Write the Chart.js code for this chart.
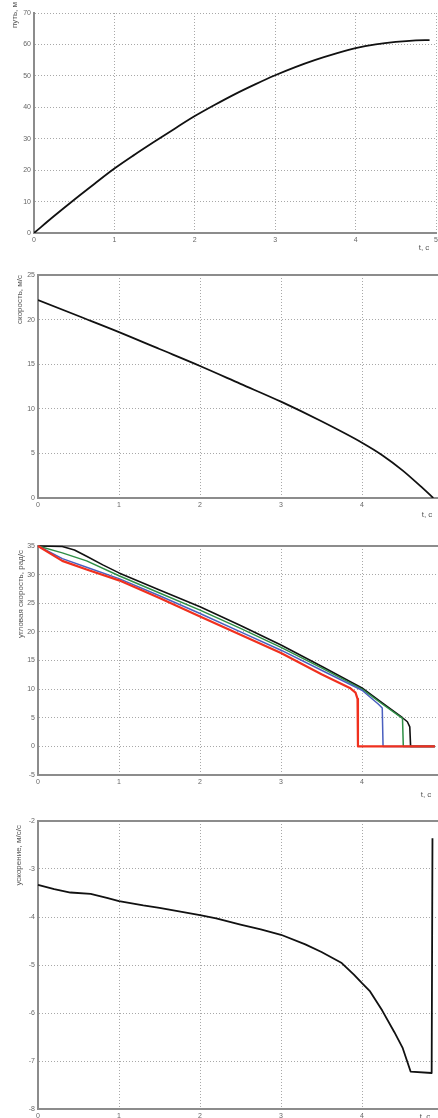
<!DOCTYPE html>
<html><head><meta charset="utf-8">
<script src="https://cdn.jsdelivr.net/npm/chart.js@4.4.1/dist/chart.umd.min.js"></script>
<style>
html,body{margin:0;padding:0;background:#fff;overflow:hidden;width:438px;height:1118px;position:relative;}
canvas{position:absolute;left:0;}
</style></head><body>
<canvas id="c1" width="450" height="262" style="top:0px"></canvas>
<canvas id="c2" width="450" height="268" style="top:262px"></canvas>
<canvas id="c3" width="450" height="270" style="top:530px"></canvas>
<canvas id="c4" width="450" height="318" style="top:800px"></canvas>
<script>
// ---- tick labels ----
const xTicks = [0, 1, 2, 3, 4, 5];
const pathTicks = [0, 10, 20, 30, 40, 50, 60, 70];
const speedTicks = [0, 5, 10, 15, 20, 25];
const omegaTicks = [-5, 0, 5, 10, 15, 20, 25, 30, 35];
const accTicks = [-8, -7, -6, -5, -4, -3, -2];

// ---- titles ----
const yTitlePath = 'путь, м';
const yTitleSpeed = 'скорость, м/с';
const yTitleOmega = 'угловая скорость, рад/с';
const yTitleAcc = 'ускорение, м/с/с';
const xTitle = 't, c';

// ---- path, m ----
const pathT = [0, 0.25, 0.5, 0.75, 1, 1.25, 1.5, 1.75, 2, 2.25, 2.5, 2.75, 3, 3.25, 3.5, 3.75, 4, 4.25, 4.5, 4.75, 4.92];
const pathS = [0, 5.4, 10.6, 15.6, 20.5, 24.9, 29.1, 33.2, 37.2, 40.8, 44.2, 47.3, 50.2, 52.8, 55.1, 57.1, 58.8, 60.0, 60.8, 61.3, 61.4];

// ---- speed, m/s ----
const speedT = [0, 0.5, 1, 1.5, 2, 2.5, 3, 3.5, 4, 4.25, 4.5, 4.75, 4.88];
const speedV = [22.2, 20.4, 18.6, 16.7, 14.8, 12.8, 10.8, 8.6, 6.2, 4.8, 3.1, 1.1, 0];

// ---- wheel angular speeds, rad/s ----
const omegaBlackT = [0, 0.3, 0.45, 0.6, 0.8, 1, 1.5, 2, 2.5, 3, 3.5, 4, 4.25, 4.5, 4.56, 4.59, 4.6, 4.9];
const omegaBlack  = [35, 34.9, 34.3, 33.2, 31.7, 30.3, 27.3, 24.4, 21.1, 17.7, 14.0, 10.2, 7.6, 5.0, 4.3, 3.4, 0, 0];
const omegaGreenT = [0, 0.3, 0.6, 1, 1.5, 2, 2.5, 3, 3.5, 4, 4.25, 4.5, 4.51, 4.9];
const omegaGreen  = [35, 33.8, 32.4, 29.8, 26.8, 23.8, 20.6, 17.3, 13.7, 10.0, 7.4, 4.9, 0, 0];
const omegaBlueT  = [0, 0.3, 0.6, 1, 1.5, 2, 2.5, 3, 3.5, 4, 4.2, 4.25, 4.26, 4.9];
const omegaBlue   = [35, 32.8, 31.3, 29.3, 26.3, 23.2, 20.0, 16.8, 13.3, 9.8, 7.4, 6.7, 0, 0];
const omegaRedT   = [0, 0.3, 0.6, 1, 1.5, 2, 2.5, 3, 3.5, 3.85, 3.92, 3.945, 3.95, 4.9];
const omegaRed    = [35, 32.4, 30.9, 29.0, 25.9, 22.7, 19.5, 16.3, 12.6, 10.2, 9.4, 8.3, 0, 0];

// ---- acceleration, m/s/s ----
const accT = [0, 0.2, 0.4, 0.65, 0.85, 1, 1.3, 1.5, 2, 2.2, 2.5, 2.75, 3, 3.3, 3.5, 3.75, 3.9, 4, 4.1, 4.25, 4.4, 4.5, 4.6, 4.86, 4.87];
const accA = [-3.33, -3.42, -3.49, -3.52, -3.6, -3.67, -3.76, -3.81, -3.96, -4.03, -4.16, -4.26, -4.37, -4.57, -4.73, -4.96, -5.2, -5.38, -5.55, -5.95, -6.4, -6.72, -7.22, -7.25, -2.36];

function pts(xs, ys) { return xs.map((x, i) => ({ x: x, y: ys[i] })); }

const FONT = '"Liberation Sans", Arial, sans-serif';
const AXIS = '#8c8c8c';
const GRID = '#a8a8a8';

const decor = {
  id: 'decor',
  beforeDatasetsDraw(chart, args, o) {
    if (!o.topBorder) return;
    const a = chart.chartArea, ctx = chart.ctx;
    ctx.save();
    ctx.strokeStyle = AXIS; ctx.lineWidth = 2;
    ctx.beginPath(); ctx.moveTo(a.left - 1, a.top); ctx.lineTo(a.right, a.top); ctx.stroke();
    ctx.restore();
  },
  afterDraw(chart, args, o) {
    const ctx = chart.ctx;
    ctx.save();
    ctx.fillStyle = '#555';
    ctx.font = '8px ' + FONT;
    ctx.textBaseline = 'middle';
    ctx.save();
    ctx.translate(o.yPos[0], o.yPos[1]);
    ctx.rotate(-Math.PI / 2);
    ctx.textAlign = 'right';
    ctx.fillText(o.yTitle, 0, 0);
    ctx.restore();
    ctx.textAlign = 'center';
    ctx.fillText(o.xTitle, o.xPos[0], o.xPos[1]);
    ctx.restore();
  }
};

function makeChart(id, c) {
  const canvasH = document.getElementById(id).height;
  const xH = canvasH - c.padTop - c.plotH;
  return new Chart(document.getElementById(id), {
    type: 'line',
    data: { datasets: c.datasets },
    plugins: [decor],
    options: {
      responsive: false,
      animation: false,
      events: [],
      layout: { padding: { left: 0, top: c.padTop, right: c.padRight, bottom: 0 } },
      elements: { point: { radius: 0 }, line: { tension: 0, borderCapStyle: 'butt', borderJoinStyle: 'round' } },
      plugins: {
        legend: { display: false }, tooltip: { enabled: false },
        decor: { topBorder: c.topBorder, yTitle: c.yTitle, yPos: c.yPos, xTitle: xTitle, xPos: c.xPos }
      },
      scales: {
        x: {
          type: 'linear', min: 0, max: 5,
          afterBuildTicks: s => { s.ticks = xTicks.map(v => ({ value: v })); },
          afterFit: s => { s.height = xH; s.paddingLeft = 0; s.paddingRight = 0; },
          ticks: { font: { size: 7, family: FONT }, color: '#666', padding: 3, maxRotation: 0, autoSkip: false, callback: v => String(v) },
          grid: { color: GRID, lineWidth: 1, drawTicks: false },
          border: { display: true, color: AXIS, width: 2, dash: [1, 2] }
        },
        y: {
          type: 'linear', min: c.yMin, max: c.yMax,
          afterBuildTicks: s => { s.ticks = c.yTicks.map(v => ({ value: v })); },
          afterFit: s => { s.width = c.left; s.paddingTop = 0; s.paddingBottom = 0; },
          ticks: { font: { size: 7, family: FONT }, color: '#666', padding: 3, autoSkip: false, callback: v => String(v) },
          grid: { color: GRID, lineWidth: 1, drawTicks: false },
          border: { display: true, color: AXIS, width: 2, dash: [1, 2] }
        }
      }
    }
  });
}

makeChart('c1', {
  padTop: 13, plotH: 220, padRight: 14, left: 34,
  yMin: 0, yMax: 70, yTicks: pathTicks, topBorder: false,
  yTitle: yTitlePath, yPos: [15, 2], xPos: [424, 248],
  datasets: [{ data: pts(pathT, pathS), borderColor: '#111', borderWidth: 1.8, cubicInterpolationMode: 'monotone' }]
});

makeChart('c2', {
  padTop: 13, plotH: 223, padRight: 7, left: 38,
  yMin: 0, yMax: 25, yTicks: speedTicks, topBorder: true,
  yTitle: yTitleSpeed, yPos: [20, 13], xPos: [427, 253],
  datasets: [{ data: pts(speedT, speedV), borderColor: '#111', borderWidth: 1.8, cubicInterpolationMode: 'monotone' }]
});

makeChart('c3', {
  padTop: 16, plotH: 229, padRight: 7, left: 38,
  yMin: -5, yMax: 35, yTicks: omegaTicks, topBorder: true,
  yTitle: yTitleOmega, yPos: [21, 20], xPos: [426, 265],
  datasets: [
    { data: pts(omegaRedT, omegaRed), borderColor: '#f0301e', borderWidth: 2.2, clip: false },
    { data: pts(omegaBlueT, omegaBlue), borderColor: '#4a5fbf', borderWidth: 1.5, clip: false },
    { data: pts(omegaGreenT, omegaGreen), borderColor: '#2f8f46', borderWidth: 1.5, clip: false },
    { data: pts(omegaBlackT, omegaBlack), borderColor: '#111', borderWidth: 1.6, clip: false }
  ]
});

makeChart('c4', {
  padTop: 21, plotH: 288, padRight: 7, left: 38,
  yMin: -8, yMax: -2, yTicks: accTicks, topBorder: true,
  yTitle: yTitleAcc, yPos: [19, 25], xPos: [425, 317],
  datasets: [{ data: pts(accT, accA), borderColor: '#111', borderWidth: 1.8, clip: false }]
});
</script>
</body></html>
